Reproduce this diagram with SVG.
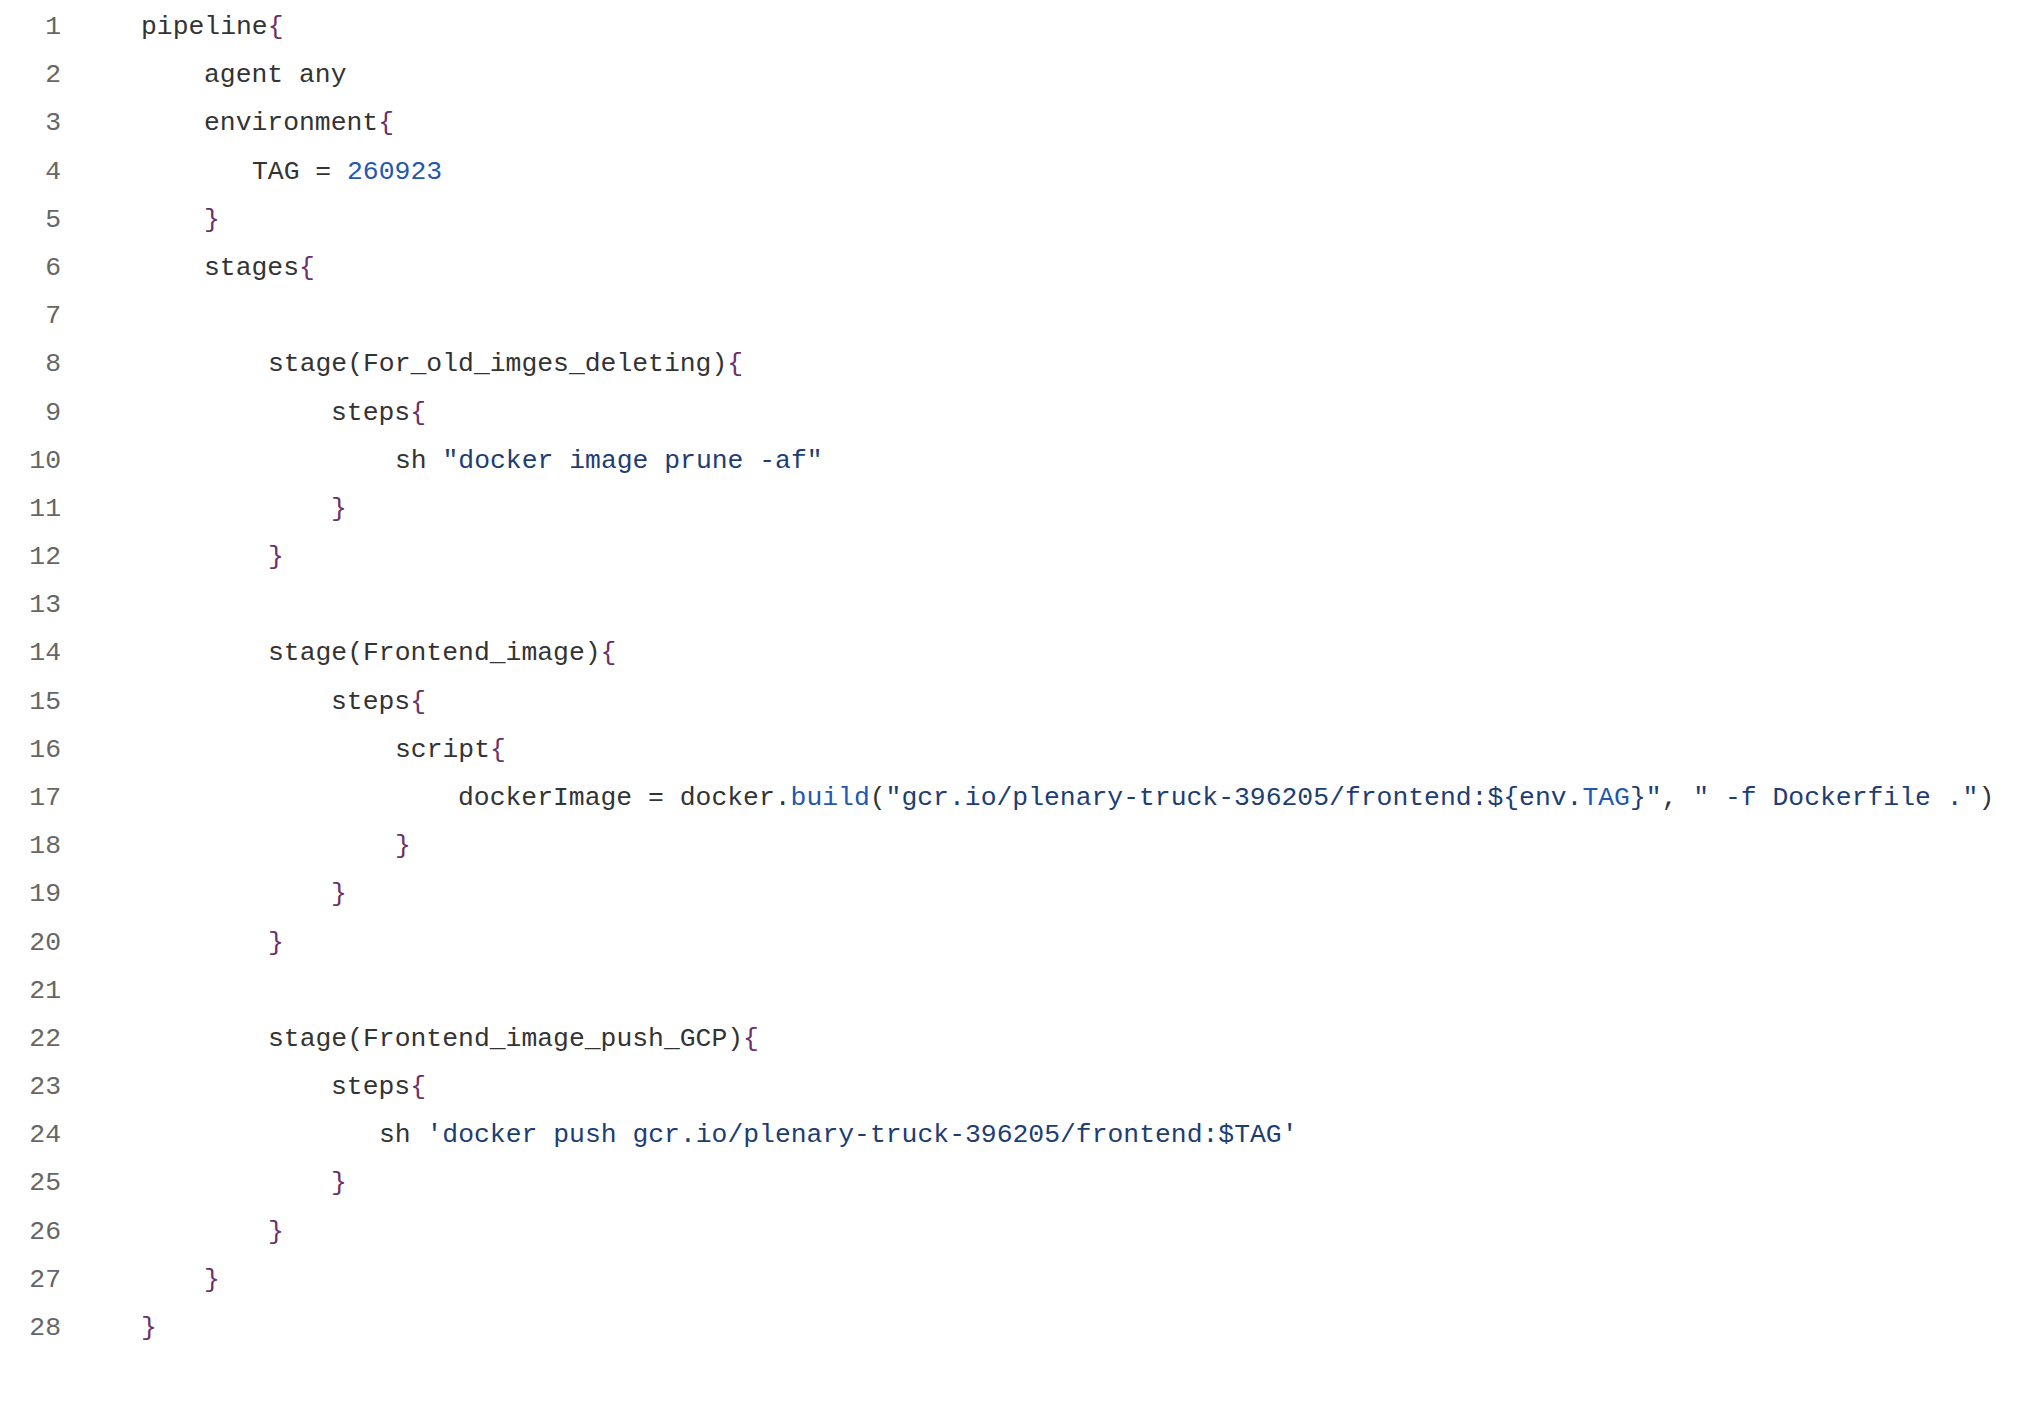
<svg xmlns="http://www.w3.org/2000/svg" width="2044" height="1422" viewBox="0 0 2044 1422">
<style>
text{font-family:"Liberation Mono","DejaVu Sans Mono",monospace;font-size:26.4px;fill:#333;white-space:pre}
.n{fill:#666;text-anchor:end}
.b{fill:#2357b0}
.s{fill:#1d3d73}
.p{fill:#6b2f6b}
</style>
<rect width="2044" height="1422" fill="#fff"/>
<g id="line-numbers">
<text class="n" x="61" y="34">1</text><text class="n" x="61" y="82">2</text><text class="n" x="61" y="130">3</text><text class="n" x="61" y="179">4</text><text class="n" x="61" y="227">5</text><text class="n" x="61" y="275">6</text><text class="n" x="61" y="323">7</text><text class="n" x="61" y="371">8</text><text class="n" x="61" y="420">9</text><text class="n" x="61" y="468">10</text><text class="n" x="61" y="516">11</text><text class="n" x="61" y="564">12</text><text class="n" x="61" y="612">13</text><text class="n" x="61" y="660">14</text><text class="n" x="61" y="709">15</text><text class="n" x="61" y="757">16</text><text class="n" x="61" y="805">17</text><text class="n" x="61" y="853">18</text><text class="n" x="61" y="901">19</text><text class="n" x="61" y="950">20</text><text class="n" x="61" y="998">21</text><text class="n" x="61" y="1046">22</text><text class="n" x="61" y="1094">23</text><text class="n" x="61" y="1142">24</text><text class="n" x="61" y="1190">25</text><text class="n" x="61" y="1239">26</text><text class="n" x="61" y="1287">27</text><text class="n" x="61" y="1335">28</text>
</g>
<g id="code">
<text x="141" y="34">pipeline<tspan class="p">{</tspan></text>
<text x="204" y="82">agent any</text>
<text x="204" y="130">environment<tspan class="p">{</tspan></text>
<text x="252" y="179">TAG = <tspan class="b">260923</tspan></text>
<text x="204" y="227" class="p">}</text>
<text x="204" y="275">stages<tspan class="p">{</tspan></text>
<text x="268" y="371">stage(For_old_imges_deleting)<tspan class="p">{</tspan></text>
<text x="331" y="420">steps<tspan class="p">{</tspan></text>
<text x="395" y="468">sh <tspan class="s">"docker image prune -af"</tspan></text>
<text x="331" y="516" class="p">}</text>
<text x="268" y="564" class="p">}</text>
<text x="268" y="660">stage(Frontend_image)<tspan class="p">{</tspan></text>
<text x="331" y="709">steps<tspan class="p">{</tspan></text>
<text x="395" y="757">script<tspan class="p">{</tspan></text>
<text x="458" y="805">dockerImage = docker.<tspan class="b">build</tspan>(<tspan class="s">"gcr.io/plenary-truck-396205/frontend:${env.</tspan><tspan class="b">TAG</tspan><tspan class="s">}"</tspan>, <tspan class="s">" -f Dockerfile ."</tspan>)</text>
<text x="395" y="853" class="p">}</text>
<text x="331" y="901" class="p">}</text>
<text x="268" y="950" class="p">}</text>
<text x="268" y="1046">stage(Frontend_image_push_GCP)<tspan class="p">{</tspan></text>
<text x="331" y="1094">steps<tspan class="p">{</tspan></text>
<text x="379" y="1142">sh <tspan class="s">'docker push gcr.io/plenary-truck-396205/frontend:$TAG'</tspan></text>
<text x="331" y="1190" class="p">}</text>
<text x="268" y="1239" class="p">}</text>
<text x="204" y="1287" class="p">}</text>
<text x="141" y="1335" class="p">}</text>
</g>
<g id="connectors"/>
</svg>
